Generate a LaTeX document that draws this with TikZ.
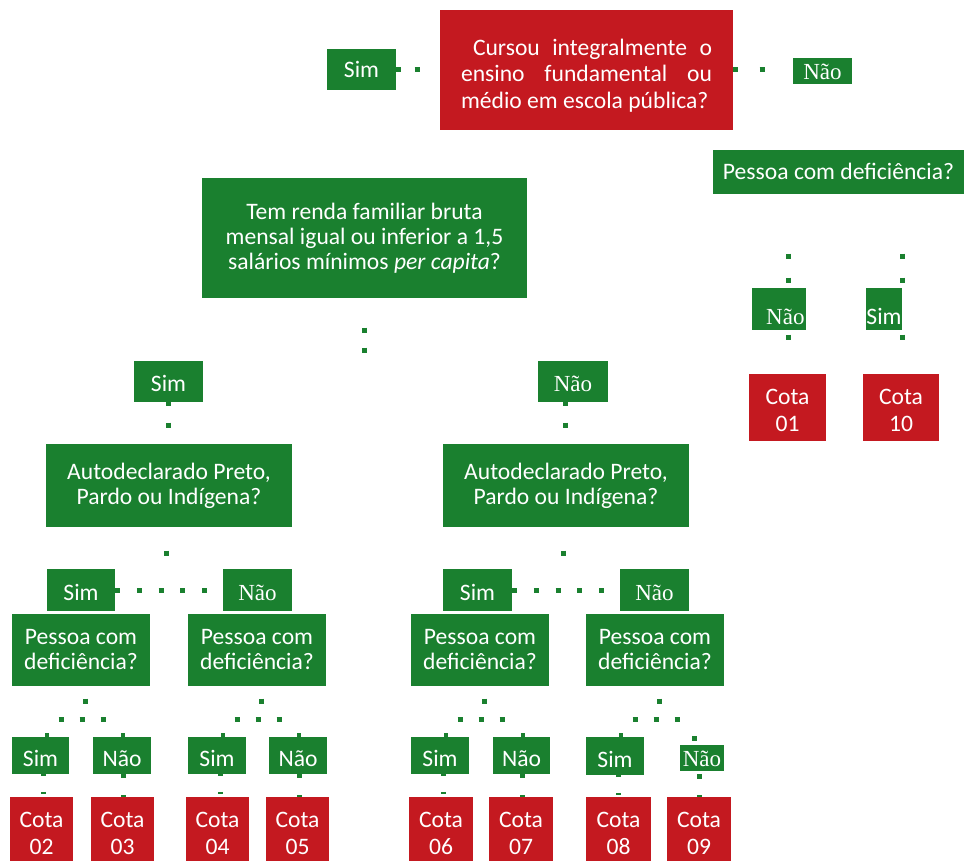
\documentclass[tikz,border=0pt]{standalone}
\usepackage{fontspec}
\setmainfont{Carlito}
\newfontfamily\naofont{Liberation Serif}
\definecolor{cG}{RGB}{26,128,47}
\definecolor{cR}{RGB}{196,25,32}
\newcommand\boxat[7]{\node[#1, minimum width={#5-#3}, minimum height={#6-#4}] (#2) at ({(#3+#5)/2},{(#4+#6)/2}) {#7};}
\newcommand\forkdots[2]{%
  \coordinate (#1-v) at ([xshift=4pt,yshift=-33pt]#1.south);
  \coordinate (#1-l) at ([xshift=-22.5pt,yshift=-33pt]#1.south);
  \coordinate (#1-r) at ([xshift=24.5pt,yshift=-33pt]#1.south);
  \draw[dl, shorten <=12.5pt, dash pattern=on 5pt off 100pt] (#1.south -| #1-v) -- (#1-v);
  \draw[dl, dash pattern=on 5pt off 16pt] (#1-l) -- (#1-r);
  \coordinate (#2-t) at ([xshift=6pt]#2.north);
  \draw[dl, line width=4pt, shorten <=14pt] (#2-t |- #1-l) -- (#2-t);
}
\newcommand\naotick[2]{%
  \coordinate (#2-t) at ([xshift=1pt]#2.north);
  \draw[dl, line width=4pt, shorten <=14pt] (#2-t |- #1-l) -- (#2-t);
}
\newcommand\simcota[2]{%
  \coordinate (#1-b) at ([xshift=3pt]#1.south);
  \draw[dl, dash pattern=on 2pt off 15.7pt on 2pt off 50pt] (#1-b) -- (#1-b |- #2.north);
}
\newcommand\naocota[2]{%
  \coordinate (#1-b) at ([xshift=1pt]#1.south);
  \draw[dl, dash pattern=on 4pt off 17pt on 2pt off 50pt] (#1-b) -- (#1-b |- #2.north);
}
\begin{document}
\begin{tikzpicture}[x=1pt,y=-1pt,
  base/.style={inner sep=0pt, text=white, font=\fontsize{23.6}{25}\selectfont, align=center},
  gbox/.style={base, fill=cG},
  rbox/.style={base, fill=cR},
  one/.style={text height=#1pt, text depth=0pt},
  nao/.style={font=\naofont\fontsize{23}{25}\selectfont},
  cota/.style={font=\fontsize{23.6}{26.5}\selectfont},
  dl/.style={draw=cG, line width=5pt}]
\useasboundingbox (0,0) rectangle (964,861);
\clip (0,0) rectangle (964,861);
% top level
\boxat{rbox, text width=251pt, align=justify, font=\fontsize{23.6}{26.5}\selectfont}{q1}{440}{10}{733}{130}{\rule{0pt}{27pt}\hspace*{12pt}Cursou integralmente o\linebreak ensino fundamental ou\linebreak médio em escola pública?}
\boxat{gbox, one=16}{simT}{327}{49}{396}{90}{Sim}
\boxat{gbox, nao, one=18}{naoT}{793}{58}{852}{84}{Não}
% right branch
\boxat{gbox, one=16}{pcdR}{713}{150}{964}{194}{Pessoa com deficiência?}
\boxat{gbox, nao, text width=51pt, align=right, one=31}{naoR}{752}{288}{806}{330}{Não}
\boxat{gbox, one=31}{simR}{867}{288}{901}{330}{Sim}
\boxat{rbox, cota}{c01}{749}{374}{826}{441}{\rule{0pt}{21pt}Cota\\01}
\boxat{rbox, cota}{c10}{863}{374}{939}{441}{\rule{0pt}{21pt}Cota\\10}
% income
\boxat{gbox}{renda}{202}{178}{527}{298}{Tem renda familiar bruta\\mensal igual ou inferior a 1,5\\salários mínimos \textit{per capita}?}
\boxat{gbox, one=19}{simL}{134}{361}{203}{402}{Sim}
\boxat{gbox, nao, one=19}{naoL}{538}{361}{608}{402}{Não}
\boxat{gbox}{autoA}{46}{444}{292}{527}{Autodeclarado Preto,\\Pardo ou Indígena?}
\boxat{gbox}{autoB}{443}{444}{689}{527}{Autodeclarado Preto,\\Pardo ou Indígena?}
% level 4
\boxat{gbox, one=20}{simA}{47}{569}{115}{611}{Sim}
\boxat{gbox, nao, one=20}{naoA}{223}{569}{292}{611}{Não}
\boxat{gbox, one=20}{simC}{443}{569}{512}{611}{Sim}
\boxat{gbox, nao, one=20}{naoC}{620}{569}{689}{611}{Não}
\boxat{gbox}{pA}{12}{614}{150}{686}{Pessoa com\\deficiência?}
\boxat{gbox}{pB}{188}{614}{326}{686}{Pessoa com\\deficiência?}
\boxat{gbox}{pC}{411}{614}{549}{686}{Pessoa com\\deficiência?}
\boxat{gbox}{pD}{586}{614}{724}{686}{Pessoa com\\deficiência?}
% level 5
\boxat{gbox, one=22}{sA}{12}{737}{69}{774}{Sim}
\boxat{gbox, one=22}{nA}{93}{737}{151}{774}{Não}
\boxat{gbox, one=22}{sB}{188}{737}{246}{774}{Sim}
\boxat{gbox, one=22}{nB}{269}{737}{327}{774}{Não}
\boxat{gbox, one=22}{sC}{411}{737}{469}{774}{Sim}
\boxat{gbox, one=22}{nC}{493}{737}{550}{774}{Não}
\boxat{gbox, one=22}{sD}{586}{737}{644}{775}{Sim}
\boxat{gbox, nao, one=16}{nD}{680}{745}{724}{771}{Não}
% quotas
\boxat{rbox, cota}{c02}{10}{797}{73}{864.5}{\rule{0pt}{21pt}Cota\\02}
\boxat{rbox, cota}{c03}{91}{797}{154}{864.5}{\rule{0pt}{21pt}Cota\\03}
\boxat{rbox, cota}{c04}{186}{797}{249}{864.5}{\rule{0pt}{21pt}Cota\\04}
\boxat{rbox, cota}{c05}{266}{797}{329}{864.5}{\rule{0pt}{21pt}Cota\\05}
\boxat{rbox, cota}{c06}{409}{797}{473}{864.5}{\rule{0pt}{21pt}Cota\\06}
\boxat{rbox, cota}{c07}{489}{797}{553}{864.5}{\rule{0pt}{21pt}Cota\\07}
\boxat{rbox, cota}{c08}{586}{797}{651}{864.5}{\rule{0pt}{21pt}Cota\\08}
\boxat{rbox, cota}{c09}{667}{797}{731}{864.5}{\rule{0pt}{21pt}Cota\\09}
% connectors: top
\draw[dl, dash pattern=on 5pt off 13.5pt, shorten >=20pt] (simT.east) -- (simT.east -| q1.west);
\draw[dl, dash pattern=on 5pt off 21.3pt, shorten >=28pt] (q1.east) -- (q1.east -| naoT.west);
% right branch
\coordinate (nR) at ([xshift=9pt]naoR.north);
\coordinate (sR) at ([xshift=18pt]simR.north);
\draw[dl, dash pattern=on 5pt off 19pt, shorten <=59.5pt] (nR |- pcdR.south) -- (nR);
\draw[dl, dash pattern=on 5pt off 19pt, shorten <=59.5pt] (sR |- pcdR.south) -- (sR);
\draw[dl, dash pattern=on 5pt off 100pt, shorten <=4.5pt] (nR |- naoR.south) -- (nR |- c01.north);
\draw[dl, dash pattern=on 5pt off 100pt, shorten <=4.5pt] (sR |- simR.south) -- (sR |- c10.north);
% income
\coordinate (rj) at ([yshift=-55pt]renda.south);
\draw[dl, dash pattern=on 5pt off 15pt, shorten <=29.5pt] (renda.south) -- (rj);
\draw[dl, dash pattern=on 4pt off 16.5pt on 5pt off 100pt] (simL.south) -- (simL.south |- autoA.north);
\coordinate (nL) at ([xshift=-8pt]naoL.south);
\draw[dl, dash pattern=on 4pt off 16.5pt on 5pt off 100pt] (nL) -- (nL |- autoB.north);
\coordinate (aA) at ([xshift=-2.5pt,yshift=-29pt]autoA.south);
\coordinate (aB) at ([xshift=-3pt,yshift=-29pt]autoB.south);
\draw[dl, dash pattern=on 5pt off 100pt, shorten <=23.5pt] (autoA.south -| aA) -- (aA);
\draw[dl, dash pattern=on 5pt off 100pt, shorten <=23.5pt] (autoB.south -| aB) -- (aB);
\draw[dl, dash pattern=on 5pt off 16.75pt] (simA.east) -- (simA.east -| naoA.west);
\draw[dl, dash pattern=on 5pt off 16.75pt] (simC.east) -- (simC.east -| naoC.west);
% forks
\forkdots{pA}{sA}\naotick{pA}{nA}
\forkdots{pB}{sB}\naotick{pB}{nB}
\forkdots{pC}{sC}\naotick{pC}{nC}
\forkdots{pD}{sD}
\coordinate (nD-t) at ([xshift=-7.5pt]nD.north);
\draw[dl, dash pattern=on 5pt off 100pt, shorten <=17pt] (nD-t |- pD-l) -- (nD-t);
% to quotas
\simcota{sA}{c02}\naocota{nA}{c03}
\simcota{sB}{c04}\naocota{nB}{c05}
\simcota{sC}{c06}\naocota{nC}{c07}
\simcota{sD}{c08}
\coordinate (nD-b) at ([xshift=-2.5pt]nD.south);
\draw[dl, dash pattern=on 5pt off 16pt on 2pt off 50pt, shorten <=3pt] (nD-b) -- (nD-b |- c09.north);
\end{tikzpicture}
\end{document}
